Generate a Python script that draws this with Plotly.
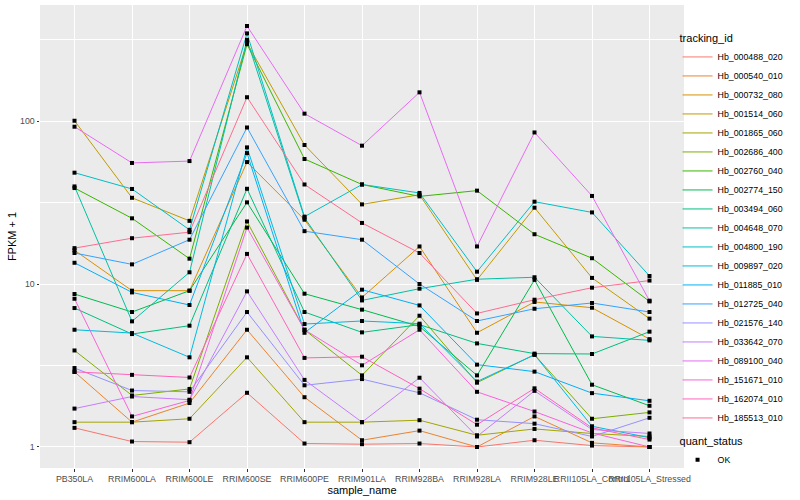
import plotly.graph_objects as go

samples = ["PB350LA", "RRIM600LA", "RRIM600LE", "RRIM600SE", "RRIM600PE", "RRIM901LA",
           "RRIM928BA", "RRIM928LA", "RRIM928LE", "RRII105LA_Control", "RRII105LA_Stressed"]

tracking_ids = ["Hb_000488_020", "Hb_000540_010", "Hb_000732_080", "Hb_001514_060",
                "Hb_001865_060", "Hb_002686_400", "Hb_002760_040", "Hb_002774_150",
                "Hb_003494_060", "Hb_004648_070", "Hb_004800_190", "Hb_009897_020",
                "Hb_011885_010", "Hb_012725_040", "Hb_021576_140", "Hb_033642_070",
                "Hb_089100_040", "Hb_151671_010", "Hb_162074_010", "Hb_185513_010"]

colors = ["#F8766D", "#EA8331", "#D89000", "#C09B00", "#A3A500", "#7CAE00", "#39B600",
          "#00BB4E", "#00BF7D", "#00C1A3", "#00BFC4", "#00BAE0", "#00B0F6", "#35A2FF",
          "#9590FF", "#C77CFF", "#E76BF3", "#FA62DB", "#FF62BC", "#FF6C91"]

# FPKM + 1 per sample, one list per tracking_id
hb_000488_020 = [1.31, 1.08, 1.07, 2.15, 1.05, 1.04, 1.05, 1.00, 1.10, 1.02, 1.00]
hb_000540_010 = [2.89, 1.42, 1.86, 5.24, 2.02, 1.10, 1.26, 1.00, 1.54, 1.06, 1.00]
hb_000732_080 = [16.1, 9.10, 9.10, 56.0, 24.8, 8.27, 17.0, 5.02, 7.76, 7.15, 4.59]
hb_001514_060 = [100.4, 33.8, 24.4, 301, 71.3, 30.8, 35.3, 10.6, 29.4, 10.9, 6.13]
hb_001865_060 = [1.42, 1.42, 1.49, 3.55, 1.42, 1.42, 1.46, 1.18, 1.29, 1.21, 1.16]
hb_002686_400 = [3.91, 2.07, 2.27, 24.2, 5.24, 2.75, 6.39, 2.48, 3.68, 1.49, 1.63]
hb_002760_040 = [38.8, 25.3, 14.3, 296, 58.5, 40.8, 34.5, 37.4, 20.2, 14.4, 7.82]
hb_002774_150 = [8.68, 6.73, 9.10, 31.7, 8.72, 6.96, 5.49, 2.75, 10.6, 2.41, 1.79]
hb_003494_060 = [7.12, 4.93, 5.55, 38.4, 6.73, 5.05, 5.63, 4.32, 3.74, 3.72, 5.10]
hb_004648_070 = [39.7, 5.90, 11.8, 315, 25.5, 7.93, 9.36, 10.7, 11.0, 4.77, 4.51]
hb_004800_190 = [48.2, 38.3, 21.5, 345, 25.9, 40.8, 36.2, 11.9, 32.0, 27.5, 11.2]
hb_009897_020 = [5.24, 5.00, 3.55, 68.9, 5.68, 5.93, 5.71, 2.52, 3.68, 1.34, 1.14]
hb_011885_010 = [13.5, 8.88, 7.43, 63.6, 5.02, 9.23, 7.39, 3.20, 2.90, 2.14, 1.92]
hb_012725_040 = [15.5, 13.2, 18.7, 91.3, 21.1, 18.7, 10.0, 5.93, 7.05, 7.65, 6.73]
hb_021576_140 = [3.05, 2.22, 2.18, 6.73, 2.39, 2.61, 2.15, 1.47, 1.39, 1.16, 1.51]
hb_033642_070 = [1.72, 2.04, 1.95, 9.01, 2.58, 1.42, 2.66, 1.16, 2.21, 1.28, 1.21]
hb_089100_040 = [92.3, 55.3, 56.8, 383, 111, 70.6, 150, 17.0, 85.1, 34.7, 7.90]
hb_151671_010 = [8.12, 1.54, 1.93, 22.2, 5.24, 3.17, 5.24, 2.18, 1.65, 1.22, 1.00]
hb_162074_010 = [2.89, 2.77, 2.67, 15.3, 3.52, 3.58, 2.28, 1.37, 2.29, 1.31, 1.11]
hb_185513_010 = [16.6, 19.1, 20.8, 140, 40.8, 23.7, 15.5, 6.60, 8.01, 9.49, 10.5]

series = [hb_000488_020, hb_000540_010, hb_000732_080, hb_001514_060, hb_001865_060,
          hb_002686_400, hb_002760_040, hb_002774_150, hb_003494_060, hb_004648_070,
          hb_004800_190, hb_009897_020, hb_011885_010, hb_012725_040, hb_021576_140,
          hb_033642_070, hb_089100_040, hb_151671_010, hb_162074_010, hb_185513_010]

quant_status = ["OK"]

FONT = "Liberation Sans, Arial, sans-serif"

fig = go.Figure()
for name, col, vals in zip(tracking_ids, colors, series):
    fig.add_trace(go.Scatter(x=samples, y=vals, mode="lines", name=name,
                             line=dict(color=col, width=1), legend="legend"))

all_x = [s for vals in series for s in samples]
all_y = [v for vals in series for v in vals]
fig.add_trace(go.Scatter(x=all_x, y=all_y, mode="markers", name=quant_status[0],
                         marker=dict(color="black", size=4, symbol="square"),
                         legend="legend2"))

fig.update_layout(
    width=800, height=500,
    margin=dict(l=40, r=116, t=5, b=32, autoexpand=False),
    paper_bgcolor="white", plot_bgcolor="#EBEBEB",
    font=dict(family=FONT, size=9, color="black"),
    legend=dict(title=dict(text="tracking_id", font=dict(size=11)),
                x=0.99, xanchor="left", y=0.95, yanchor="top",
                font=dict(size=8.8), itemwidth=30, tracegroupgap=0,
                bgcolor="rgba(0,0,0,0)"),
    legend2=dict(title=dict(text="quant_status", font=dict(size=11)),
                 x=0.99, xanchor="left", y=0.08, yanchor="top",
                 font=dict(size=8.8), itemwidth=30, bgcolor="rgba(0,0,0,0)"),
    xaxis=dict(type="category", categoryorder="array", categoryarray=samples,
               range=[-0.6, 10.6], showgrid=True, gridcolor="white", gridwidth=1.1,
               zeroline=False, ticks="outside", ticklen=2.5, tickcolor="#333333",
               tickangle=0, tickfont=dict(size=8.8, color="#4D4D4D"),
               title=dict(text="sample_name", font=dict(size=11), standoff=3)),
    yaxis=dict(type="log", range=[-0.129, 2.712],
               tickvals=[1, 10, 100], ticktext=["1", "10", "100"],
               showgrid=True, gridcolor="white", gridwidth=1.1, zeroline=False,
               ticks="outside", ticklen=2.5, tickcolor="#333333",
               tickfont=dict(size=8.8, color="#4D4D4D"),
               minor=dict(tickvals=[3.1623, 31.623, 316.23], showgrid=True,
                          gridcolor="white", gridwidth=0.55, ticks=""),
               title=dict(text="FPKM + 1", font=dict(size=11), standoff=1)),
)

fig.write_html("out.html", config={"displayModeBar": False},
               post_script="document.body.style.margin='0';")
